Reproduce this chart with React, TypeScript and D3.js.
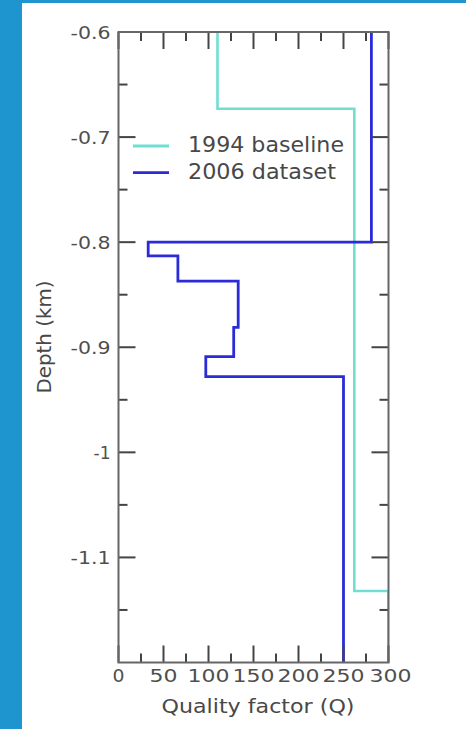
import React from "react";
import * as d3 from "d3";

// Layer tops (km) and quality factor per layer; the last layer runs to the base depth.
const baselineTops = [-0.6, -0.673, -1.132];
const baselineQ = [110, 262, 300];
const datasetTops = [-0.6, -0.8, -0.813, -0.837, -0.881, -0.909, -0.928];
const datasetQ = [281, 33, 66, 133, 128, 97, 250];
const baseDepth = -1.2;

const xTicks = [0, 50, 100, 150, 200, 250, 300];
const xMinor = [25, 75, 125, 175, 225, 275];
const yTicks = [-0.6, -0.7, -0.8, -0.9, -1, -1.1];
const yMinor = [-0.65, -0.75, -0.85, -0.95, -1.05, -1.15];
const yTickLabels = ["-0.6", "-0.7", "-0.8", "-0.9", "-1", "-1.1"];

const seriesNames = ["1994 baseline", "2006 dataset"];
const seriesColors = ["#6fded3", "#2b2bd8"];

const W = 466;
const H = 729;
const FONT = "'DejaVu Sans', sans-serif";

function stepPath(tops: number[], qs: number[], x: d3.ScaleLinear<number, number>, y: d3.ScaleLinear<number, number>) {
  const pts: [number, number][] = [];
  qs.forEach((q, i) => {
    const top = tops[i];
    const bottom = i + 1 < tops.length ? tops[i + 1] : baseDepth;
    pts.push([x(q), y(top)]);
    pts.push([x(q), y(bottom)]);
  });
  return d3.line()(pts) ?? "";
}

export default function App() {
  const left = 118.5;
  const right = 388.5;
  const top = 32;
  const bottom = 662.5;

  const x = d3.scaleLinear().domain([0, 300]).range([left, right]);
  const y = d3.scaleLinear().domain([-0.6, baseDepth]).range([top, bottom]);

  const major = 17;
  const minor = 9;
  const tickColor = "#444444";

  const xLabelWidth = (v: number) => (v === 0 ? 12 : v < 100 ? 28 : 42);
  const yLabelWidth = (s: string) => (s.length === 2 ? 17 : 40);

  return (
    <svg
      width={W}
      height={H}
      style={{ position: "absolute", left: 0, top: 0, display: "block" }}
      fontFamily={FONT}
    >
      <rect x={0} y={0} width={W} height={H} fill="#ffffff" />
      <rect x={0} y={0} width={22} height={H} fill="#1f95cf" />
      <rect x={0} y={0} width={W} height={3} fill="#1f95cf" />

      <defs>
        <clipPath id="plot-clip">
          <rect x={left} y={top} width={right - left} height={bottom - top} />
        </clipPath>
      </defs>

      {/* depth profiles */}
      <g clipPath="url(#plot-clip)" fill="none" strokeLinejoin="miter">
        <path d={stepPath(baselineTops, baselineQ, x, y)} stroke={seriesColors[0]} strokeWidth={2.6} />
        <path d={stepPath(datasetTops, datasetQ, x, y)} stroke={seriesColors[1]} strokeWidth={2.8} />
      </g>

      {/* ticks on all four sides */}
      <g stroke={tickColor} strokeWidth={2}>
        {xTicks.map((v) => (
          <g key={"xt" + v}>
            <line x1={x(v)} x2={x(v)} y1={bottom} y2={bottom - major} />
            <line x1={x(v)} x2={x(v)} y1={top} y2={top + major} />
          </g>
        ))}
        {xMinor.map((v) => (
          <g key={"xm" + v}>
            <line x1={x(v)} x2={x(v)} y1={bottom} y2={bottom - minor} />
            <line x1={x(v)} x2={x(v)} y1={top} y2={top + minor} />
          </g>
        ))}
        {yTicks.map((v) => (
          <g key={"yt" + v}>
            <line x1={left} x2={left + major} y1={y(v)} y2={y(v)} />
            <line x1={right} x2={right - major} y1={y(v)} y2={y(v)} />
          </g>
        ))}
        {yMinor.map((v) => (
          <g key={"ym" + v}>
            <line x1={left} x2={left + minor} y1={y(v)} y2={y(v)} />
            <line x1={right} x2={right - minor} y1={y(v)} y2={y(v)} />
          </g>
        ))}
      </g>

      {/* frame */}
      <rect
        x={left}
        y={top}
        width={right - left}
        height={bottom - top}
        fill="none"
        stroke="#666666"
        strokeWidth={2}
      />

      {/* tick labels */}
      <g fill="#4f4f4f" fontSize={18}>
        {xTicks.map((v) => (
          <text
            key={"xl" + v}
            x={x(v) + (v === 300 ? 2 : 0)}
            y={681.5}
            textAnchor="middle"
            textLength={xLabelWidth(v)}
            lengthAdjust="spacingAndGlyphs"
          >
            {v}
          </text>
        ))}
        {yTicks.map((v, i) => (
          <text
            key={"yl" + v}
            x={110.5}
            y={y(v) + 6.5}
            textAnchor="end"
            textLength={yLabelWidth(yTickLabels[i])}
            lengthAdjust="spacingAndGlyphs"
          >
            {yTickLabels[i]}
          </text>
        ))}
      </g>

      {/* axis titles */}
      <text
        x={258}
        y={713}
        textAnchor="middle"
        fill="#484848"
        fontSize={20}
        textLength={193}
        lengthAdjust="spacingAndGlyphs"
      >
        Quality factor (Q)
      </text>
      <text
        transform={`translate(51,337) rotate(-90)`}
        textAnchor="middle"
        fill="#484848"
        fontSize={19.5}
        textLength={113}
        lengthAdjust="spacingAndGlyphs"
      >
        Depth (km)
      </text>

      {/* legend */}
      <g>
        {seriesNames.map((name, i) => (
          <g key={name}>
            <line
              x1={133}
              x2={169}
              y1={146 + i * 26.7}
              y2={146 + i * 26.7}
              stroke={seriesColors[i]}
              strokeWidth={2.8}
            />
            <text
              x={188}
              y={152 + i * 27}
              fill="#484848"
              fontSize={21}
              textLength={i === 0 ? 156 : 148}
              lengthAdjust="spacingAndGlyphs"
            >
              {name}
            </text>
          </g>
        ))}
      </g>
    </svg>
  );
}
